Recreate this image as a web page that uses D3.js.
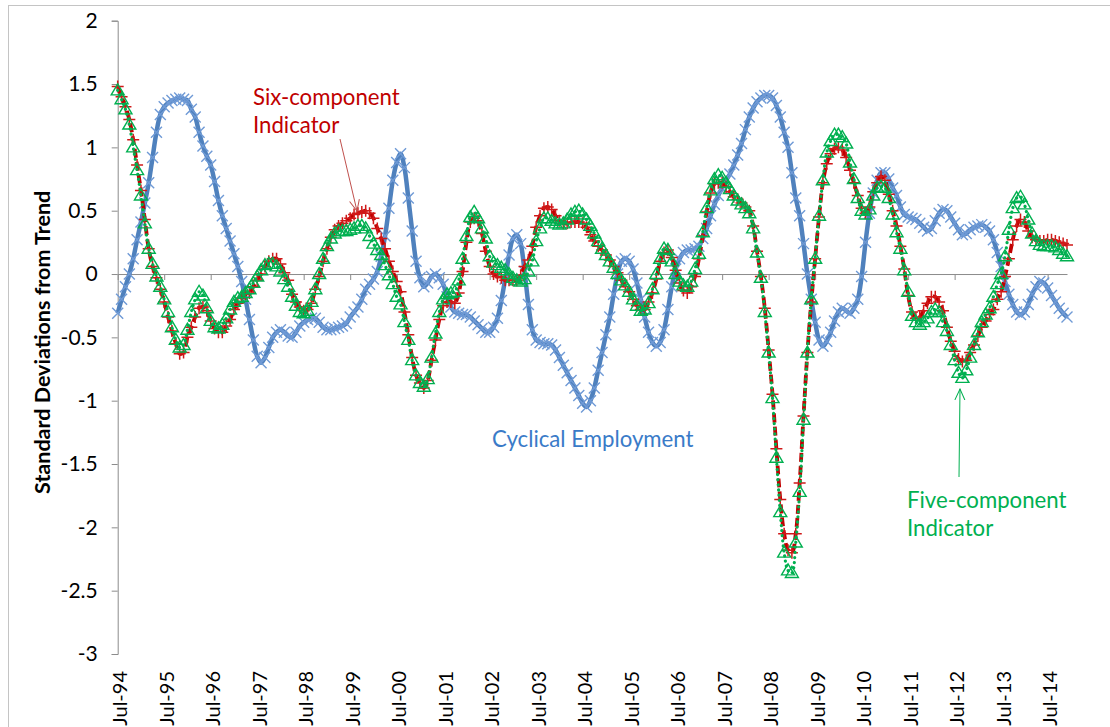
<!DOCTYPE html>
<html>
<head>
<meta charset="utf-8">
<title>Indicators vs Cyclical Employment</title>
<script src="https://d3js.org/d3.v7.min.js"></script>
<style>
body { margin: 0; background: #fff; }
text { font-family: Lato, "Open Sans", sans-serif; }
</style>
</head>
<body>
<script>

var width = 1110,
    height = 727;

var margin = { left: 117.7, right: 43, top: 20.7, bottom: 73 };

// monthly categories, Jul-94 .. Dec-14
var months = d3.timeMonth.range(new Date(1994, 6, 1), new Date(2015, 0, 1));
var fmtMonth = d3.timeFormat("%b-%y");

var tickLabels = ["Jul-94","Jul-95","Jul-96","Jul-97","Jul-98","Jul-99","Jul-00",
  "Jul-01","Jul-02","Jul-03","Jul-04","Jul-05","Jul-06","Jul-07","Jul-08","Jul-09",
  "Jul-10","Jul-11","Jul-12","Jul-13","Jul-14"];

var yTicks = [2, 1.5, 1, 0.5, 0, -0.5, -1, -1.5, -2, -2.5, -3];

// Cyclical Employment
var cyc = [
  -0.31,-0.2,-0.1,0.0,0.12,0.27,0.41,0.56,0.72,0.92,
  1.12,1.26,1.32,1.35,1.37,1.38,1.39,1.38,1.37,1.3,
  1.24,1.12,1.01,0.93,0.86,0.73,0.58,0.46,0.36,0.26,
  0.16,0.06,-0.06,-0.2,-0.36,-0.52,-0.65,-0.7,-0.66,-0.58,
  -0.5,-0.46,-0.44,-0.46,-0.49,-0.5,-0.46,-0.41,-0.38,-0.36,
  -0.35,-0.35,-0.38,-0.42,-0.44,-0.44,-0.43,-0.42,-0.41,-0.39,
  -0.34,-0.3,-0.26,-0.2,-0.12,-0.08,-0.04,0.02,0.14,0.3,
  0.52,0.74,0.88,0.95,0.84,0.6,0.34,0.1,-0.03,-0.1,
  -0.07,-0.02,0.0,-0.03,-0.08,-0.18,-0.26,-0.3,-0.31,-0.32,
  -0.32,-0.34,-0.37,-0.4,-0.43,-0.46,-0.46,-0.42,-0.35,-0.21,
  -0.04,0.15,0.28,0.31,0.24,0.02,-0.24,-0.44,-0.52,-0.54,
  -0.55,-0.55,-0.56,-0.6,-0.66,-0.72,-0.78,-0.84,-0.9,-0.96,
  -1.02,-1.05,-1.0,-0.9,-0.76,-0.62,-0.48,-0.34,-0.16,0.0,
  0.1,0.12,0.1,0.04,-0.07,-0.2,-0.34,-0.46,-0.54,-0.57,
  -0.54,-0.44,-0.28,-0.1,0.04,0.12,0.17,0.19,0.19,0.2,
  0.22,0.28,0.36,0.46,0.55,0.62,0.68,0.74,0.79,0.86,
  0.94,1.03,1.14,1.24,1.31,1.36,1.39,1.41,1.41,1.39,
  1.33,1.24,1.12,1.0,0.8,0.6,0.46,0.24,0.0,-0.2,
  -0.38,-0.52,-0.57,-0.53,-0.46,-0.37,-0.3,-0.27,-0.29,-0.31,
  -0.27,-0.2,-0.02,0.25,0.48,0.64,0.74,0.8,0.8,0.75,
  0.68,0.62,0.53,0.47,0.45,0.44,0.43,0.4,0.37,0.34,
  0.36,0.42,0.48,0.51,0.5,0.45,0.4,0.35,0.31,0.32,
  0.35,0.37,0.38,0.39,0.37,0.34,0.27,0.17,0.06,-0.06,
  -0.16,-0.24,-0.3,-0.32,-0.3,-0.24,-0.16,-0.1,-0.06,-0.07,
  -0.11,-0.17,-0.22,-0.27,-0.31,-0.34
];

// Six-component Indicator
var six = [
  1.48,1.4,1.32,1.22,1.06,0.86,0.66,0.43,0.2,0.06,
  -0.03,-0.12,-0.22,-0.34,-0.45,-0.55,-0.63,-0.62,-0.5,-0.42,
  -0.34,-0.27,-0.26,-0.29,-0.37,-0.43,-0.46,-0.46,-0.41,-0.36,
  -0.28,-0.23,-0.19,-0.16,-0.15,-0.1,-0.05,0.0,0.06,0.1,
  0.12,0.12,0.08,0.01,-0.05,-0.16,-0.22,-0.26,-0.29,-0.28,
  -0.23,-0.12,-0.02,0.1,0.2,0.29,0.35,0.38,0.4,0.42,
  0.44,0.47,0.48,0.49,0.5,0.48,0.44,0.36,0.28,0.2,
  0.1,0.02,-0.06,-0.14,-0.3,-0.48,-0.66,-0.8,-0.86,-0.9,
  -0.84,-0.68,-0.52,-0.36,-0.25,-0.22,-0.22,-0.23,-0.15,0.02,
  0.25,0.41,0.44,0.42,0.32,0.18,0.06,0.0,-0.02,-0.03,
  -0.05,-0.05,-0.05,-0.05,-0.01,0.06,0.11,0.22,0.37,0.46,
  0.52,0.53,0.51,0.46,0.42,0.4,0.4,0.41,0.41,0.41,
  0.4,0.37,0.31,0.26,0.22,0.19,0.15,0.11,0.06,0.01,
  -0.05,-0.1,-0.14,-0.2,-0.25,-0.28,-0.28,-0.22,-0.15,-0.04,
  0.1,0.17,0.19,0.13,0.03,-0.07,-0.13,-0.15,-0.1,-0.02,
  0.12,0.3,0.49,0.64,0.71,0.72,0.72,0.69,0.65,0.61,
  0.59,0.56,0.53,0.5,0.38,0.18,-0.02,-0.27,-0.6,-0.95,
  -1.38,-1.78,-2.05,-2.18,-2.2,-2.05,-1.65,-1.12,-0.62,-0.22,
  0.12,0.45,0.72,0.87,0.95,0.99,1.0,0.98,0.92,0.82,
  0.72,0.62,0.52,0.48,0.53,0.65,0.72,0.77,0.74,0.63,
  0.5,0.38,0.22,0.04,-0.17,-0.3,-0.35,-0.34,-0.29,-0.23,
  -0.18,-0.18,-0.22,-0.29,-0.42,-0.53,-0.61,-0.67,-0.69,-0.68,
  -0.62,-0.56,-0.49,-0.42,-0.37,-0.32,-0.28,-0.2,-0.14,-0.02,
  0.12,0.27,0.38,0.43,0.41,0.34,0.29,0.27,0.26,0.26,
  0.27,0.27,0.26,0.25,0.24,0.23
];

// Five-component Indicator
var five = [
  1.45,1.38,1.3,1.18,1.0,0.82,0.62,0.4,0.2,0.08,
  -0.02,-0.1,-0.2,-0.3,-0.42,-0.52,-0.58,-0.56,-0.44,-0.3,
  -0.2,-0.14,-0.17,-0.27,-0.37,-0.42,-0.43,-0.4,-0.35,-0.28,
  -0.22,-0.19,-0.18,-0.15,-0.12,-0.07,-0.02,0.03,0.07,0.08,
  0.08,0.06,0.02,-0.04,-0.1,-0.18,-0.25,-0.3,-0.31,-0.29,
  -0.22,-0.12,0.0,0.12,0.22,0.28,0.32,0.34,0.34,0.34,
  0.35,0.36,0.38,0.38,0.36,0.3,0.24,0.19,0.15,0.07,
  -0.01,-0.08,-0.18,-0.24,-0.38,-0.52,-0.68,-0.8,-0.86,-0.89,
  -0.83,-0.66,-0.47,-0.3,-0.2,-0.16,-0.15,-0.14,-0.05,0.12,
  0.3,0.45,0.49,0.44,0.36,0.28,0.14,0.09,0.07,0.05,
  0.03,0.0,-0.03,-0.05,-0.06,-0.04,0.02,0.1,0.26,0.36,
  0.44,0.44,0.42,0.4,0.39,0.4,0.43,0.47,0.49,0.5,
  0.47,0.43,0.38,0.32,0.26,0.2,0.15,0.1,0.05,0.0,
  -0.05,-0.09,-0.14,-0.2,-0.25,-0.29,-0.28,-0.23,-0.12,0.0,
  0.12,0.2,0.19,0.1,0.0,-0.06,-0.09,-0.1,-0.06,0.04,
  0.16,0.33,0.52,0.66,0.75,0.78,0.76,0.72,0.67,0.62,
  0.58,0.55,0.52,0.48,0.36,0.17,-0.03,-0.3,-0.62,-0.98,
  -1.45,-1.88,-2.2,-2.34,-2.36,-2.12,-1.72,-1.15,-0.62,-0.2,
  0.12,0.46,0.74,0.96,1.05,1.1,1.1,1.08,1.03,0.88,
  0.75,0.6,0.5,0.47,0.51,0.62,0.68,0.69,0.68,0.6,
  0.47,0.33,0.2,0.03,-0.14,-0.33,-0.38,-0.4,-0.38,-0.35,
  -0.3,-0.28,-0.3,-0.38,-0.45,-0.56,-0.68,-0.78,-0.82,-0.76,
  -0.66,-0.56,-0.46,-0.38,-0.32,-0.27,-0.18,-0.08,0.0,0.14,
  0.35,0.52,0.6,0.61,0.55,0.43,0.32,0.26,0.23,0.22,
  0.22,0.22,0.21,0.19,0.16,0.14
];

var cats = months.map(fmtMonth);

var svg = d3.select("body").append("svg")
    .attr("width", width)
    .attr("height", height);

// chart area frame
svg.append("rect")
    .attr("x", 8.5).attr("y", 5.5)
    .attr("width", 1200).attr("height", 800)
    .style("fill", "none")
    .style("stroke", "#c4c4c4");

var x = d3.scalePoint()
    .domain(cats)
    .range([margin.left, width - margin.right]);

var y = d3.scaleLinear()
    .domain([-3, 2])
    .range([height - margin.bottom, margin.top]);

// y axis
var yAxis = svg.append("g")
    .attr("transform", "translate(" + margin.left + ",0)")
    .call(d3.axisLeft(y).tickValues(yTicks).tickSize(6).tickPadding(14)
        .tickFormat(function(d) { return String(d); }));
yAxis.selectAll("path, line").style("stroke", "#8c8c8c");
yAxis.selectAll("text").style("font-size", "21px").style("fill", "#000")
    .style("font-family", "Lato");

// x axis on the zero line
var xAxis = svg.append("g")
    .attr("transform", "translate(0," + y(0) + ")")
    .call(d3.axisBottom(x).tickValues(tickLabels).tickSize(6)
        .tickSizeOuter(0).tickFormat(""));
xAxis.selectAll("path, line").style("stroke", "#8c8c8c");

// x tick labels below the plot
var xLab = svg.append("g")
    .attr("transform", "translate(0," + (height - margin.bottom + 17) + ")")
    .call(d3.axisBottom(x).tickValues(tickLabels).tickSize(0).tickFormat(function(d) { return d; }));
xLab.select(".domain").remove();
xLab.selectAll("text")
    .attr("transform", "rotate(-90)")
    .attr("x", 0).attr("y", 0).attr("dy", "0.45em")
    .style("text-anchor", "end")
    .style("font-size", "20px").style("fill", "#000")
    .style("font-family", "Lato");

// y axis title
svg.append("text")
    .attr("transform", "translate(50," + ((margin.top + height - margin.bottom) / 2 + 5) + ") rotate(-90)")
    .style("text-anchor", "middle")
    .style("font-size", "21.5px")
    .style("font-weight", "bold")
    .text("Standard Deviations from Trend");

var line = d3.line()
    .x(function(d, i) { return x(cats[i]); })
    .y(function(d) { return y(d); })
    .curve(d3.curveCatmullRom.alpha(0.5));

var plot = svg.append("g");

// Cyclical Employment
plot.append("path")
    .datum(cyc)
    .attr("d", line)
    .style("fill", "none")
    .style("stroke", "#4f81bd")
    .style("stroke-width", 4.5);
plot.append("g").selectAll("path")
    .data(cyc)
    .join("path")
    .attr("transform", function(d, i) { return "translate(" + x(cats[i]) + "," + y(d) + ")"; })
    .attr("d", "M-5.5,-5.5L5.5,5.5M-5.5,5.5L5.5,-5.5")
    .style("fill", "none")
    .style("stroke", "#6f9ad6")
    .style("stroke-width", 1.4);

// Six-component Indicator
plot.append("path")
    .datum(six)
    .attr("d", line)
    .style("fill", "none")
    .style("stroke", "#c00000")
    .style("stroke-width", 3.8)
    .style("stroke-dasharray", "9,4");
plot.append("g").selectAll("path")
    .data(six)
    .join("path")
    .attr("transform", function(d, i) { return "translate(" + x(cats[i]) + "," + y(d) + ")"; })
    .attr("d", "M-6,0L6,0M0,-6L0,6")
    .style("fill", "none")
    .style("stroke", "#d01818")
    .style("stroke-width", 1.5);

// Five-component Indicator
plot.append("path")
    .datum(five)
    .attr("d", line)
    .style("fill", "none")
    .style("stroke", "#00b050")
    .style("stroke-width", 3.2)
    .style("stroke-linecap", "round")
    .style("stroke-dasharray", "0.1,5");
plot.append("g").selectAll("path")
    .data(five)
    .join("path")
    .attr("transform", function(d, i) { return "translate(" + x(cats[i]) + "," + y(d) + ")"; })
    .attr("d", "M0,-6.5L6.5,4.5L-6.5,4.5Z")
    .style("fill", "none")
    .style("stroke", "#00b050")
    .style("stroke-width", 1.4);

// annotations
var defs = svg.append("defs");
function arrowHead(id, color) {
  defs.append("marker")
      .attr("id", id)
      .attr("viewBox", "0 -6 12 12")
      .attr("refX", 11).attr("refY", 0)
      .attr("markerWidth", 12).attr("markerHeight", 12)
      .attr("markerUnits", "userSpaceOnUse")
      .attr("orient", "auto")
    .append("path")
      .attr("d", "M0,-5L11,0L0,5")
      .style("fill", "none")
      .style("stroke", color)
      .style("stroke-width", 1);
}
arrowHead("arrRed", "#c0504d");
arrowHead("arrGreen", "#00b050");

svg.append("line")
    .attr("x1", 340).attr("y1", 139)
    .attr("x2", 357).attr("y2", 211)
    .style("stroke", "#c0504d").style("stroke-width", 1)
    .attr("marker-end", "url(#arrRed)");

svg.append("line")
    .attr("x1", 959).attr("y1", 477)
    .attr("x2", 960).attr("y2", 389)
    .style("stroke", "#00b050").style("stroke-width", 1)
    .attr("marker-end", "url(#arrGreen)");

function note(lines, x0, y0, color) {
  var t = svg.append("text")
      .attr("x", x0).attr("y", y0)
      .style("font-size", "22.2px")
      .style("fill", color);
  lines.forEach(function(s, i) {
    t.append("tspan").attr("x", x0).attr("dy", i ? 28 : 0).text(s);
  });
}
note(["Six-component", "Indicator"], 253, 105, "#c00000");
note(["Cyclical Employment"], 492, 447, "#3a7bc8");
note(["Five-component", "Indicator"], 907, 508, "#00b050");

</script>
</body>
</html>
